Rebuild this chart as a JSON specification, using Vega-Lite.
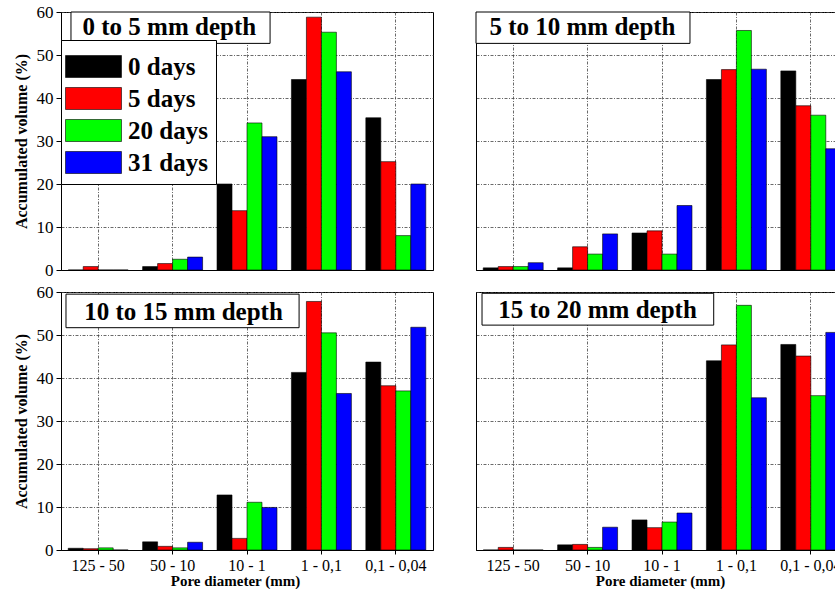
{
  "$schema": "https://vega.github.io/schema/vega-lite/v6.json",
  "background": "white",
  "padding": {"left": 12, "top": 2, "right": 0, "bottom": 0},
  "datasets": {
    "pores": [
      {"depth": "0 to 5", "pore": "125 - 50", "days": "0 days", "volume": 0},
      {"depth": "0 to 5", "pore": "125 - 50", "days": "5 days", "volume": 0.8},
      {"depth": "0 to 5", "pore": "125 - 50", "days": "20 days", "volume": 0},
      {"depth": "0 to 5", "pore": "125 - 50", "days": "31 days", "volume": 0},
      {"depth": "0 to 5", "pore": "50 - 10", "days": "0 days", "volume": 0.8},
      {"depth": "0 to 5", "pore": "50 - 10", "days": "5 days", "volume": 1.5},
      {"depth": "0 to 5", "pore": "50 - 10", "days": "20 days", "volume": 2.5},
      {"depth": "0 to 5", "pore": "50 - 10", "days": "31 days", "volume": 3.0},
      {"depth": "0 to 5", "pore": "10 - 1", "days": "0 days", "volume": 20.0},
      {"depth": "0 to 5", "pore": "10 - 1", "days": "5 days", "volume": 13.8},
      {"depth": "0 to 5", "pore": "10 - 1", "days": "20 days", "volume": 34.2},
      {"depth": "0 to 5", "pore": "10 - 1", "days": "31 days", "volume": 31.0},
      {"depth": "0 to 5", "pore": "1 - 0,1", "days": "0 days", "volume": 44.3},
      {"depth": "0 to 5", "pore": "1 - 0,1", "days": "5 days", "volume": 58.8},
      {"depth": "0 to 5", "pore": "1 - 0,1", "days": "20 days", "volume": 55.3},
      {"depth": "0 to 5", "pore": "1 - 0,1", "days": "31 days", "volume": 46.1},
      {"depth": "0 to 5", "pore": "0,1 - 0,04", "days": "0 days", "volume": 35.4},
      {"depth": "0 to 5", "pore": "0,1 - 0,04", "days": "5 days", "volume": 25.2},
      {"depth": "0 to 5", "pore": "0,1 - 0,04", "days": "20 days", "volume": 8.0},
      {"depth": "0 to 5", "pore": "0,1 - 0,04", "days": "31 days", "volume": 20.0},

      {"depth": "5 to 10", "pore": "125 - 50", "days": "0 days", "volume": 0.5},
      {"depth": "5 to 10", "pore": "125 - 50", "days": "5 days", "volume": 0.8},
      {"depth": "5 to 10", "pore": "125 - 50", "days": "20 days", "volume": 0.8},
      {"depth": "5 to 10", "pore": "125 - 50", "days": "31 days", "volume": 1.7},
      {"depth": "5 to 10", "pore": "50 - 10", "days": "0 days", "volume": 0.5},
      {"depth": "5 to 10", "pore": "50 - 10", "days": "5 days", "volume": 5.4},
      {"depth": "5 to 10", "pore": "50 - 10", "days": "20 days", "volume": 3.7},
      {"depth": "5 to 10", "pore": "50 - 10", "days": "31 days", "volume": 8.4},
      {"depth": "5 to 10", "pore": "10 - 1", "days": "0 days", "volume": 8.6},
      {"depth": "5 to 10", "pore": "10 - 1", "days": "5 days", "volume": 9.1},
      {"depth": "5 to 10", "pore": "10 - 1", "days": "20 days", "volume": 3.7},
      {"depth": "5 to 10", "pore": "10 - 1", "days": "31 days", "volume": 15.0},
      {"depth": "5 to 10", "pore": "1 - 0,1", "days": "0 days", "volume": 44.3},
      {"depth": "5 to 10", "pore": "1 - 0,1", "days": "5 days", "volume": 46.6},
      {"depth": "5 to 10", "pore": "1 - 0,1", "days": "20 days", "volume": 55.7},
      {"depth": "5 to 10", "pore": "1 - 0,1", "days": "31 days", "volume": 46.7},
      {"depth": "5 to 10", "pore": "0,1 - 0,04", "days": "0 days", "volume": 46.3},
      {"depth": "5 to 10", "pore": "0,1 - 0,04", "days": "5 days", "volume": 38.2},
      {"depth": "5 to 10", "pore": "0,1 - 0,04", "days": "20 days", "volume": 36.0},
      {"depth": "5 to 10", "pore": "0,1 - 0,04", "days": "31 days", "volume": 28.2},

      {"depth": "10 to 15", "pore": "125 - 50", "days": "0 days", "volume": 0.4},
      {"depth": "10 to 15", "pore": "125 - 50", "days": "5 days", "volume": 0.3},
      {"depth": "10 to 15", "pore": "125 - 50", "days": "20 days", "volume": 0.5},
      {"depth": "10 to 15", "pore": "125 - 50", "days": "31 days", "volume": 0},
      {"depth": "10 to 15", "pore": "50 - 10", "days": "0 days", "volume": 1.9},
      {"depth": "10 to 15", "pore": "50 - 10", "days": "5 days", "volume": 0.85},
      {"depth": "10 to 15", "pore": "50 - 10", "days": "20 days", "volume": 0.5},
      {"depth": "10 to 15", "pore": "50 - 10", "days": "31 days", "volume": 1.8},
      {"depth": "10 to 15", "pore": "10 - 1", "days": "0 days", "volume": 12.8},
      {"depth": "10 to 15", "pore": "10 - 1", "days": "5 days", "volume": 2.7},
      {"depth": "10 to 15", "pore": "10 - 1", "days": "20 days", "volume": 11.1},
      {"depth": "10 to 15", "pore": "10 - 1", "days": "31 days", "volume": 9.9},
      {"depth": "10 to 15", "pore": "1 - 0,1", "days": "0 days", "volume": 41.3},
      {"depth": "10 to 15", "pore": "1 - 0,1", "days": "5 days", "volume": 57.8},
      {"depth": "10 to 15", "pore": "1 - 0,1", "days": "20 days", "volume": 50.5},
      {"depth": "10 to 15", "pore": "1 - 0,1", "days": "31 days", "volume": 36.4},
      {"depth": "10 to 15", "pore": "0,1 - 0,04", "days": "0 days", "volume": 43.7},
      {"depth": "10 to 15", "pore": "0,1 - 0,04", "days": "5 days", "volume": 38.2},
      {"depth": "10 to 15", "pore": "0,1 - 0,04", "days": "20 days", "volume": 37.0},
      {"depth": "10 to 15", "pore": "0,1 - 0,04", "days": "31 days", "volume": 51.8},

      {"depth": "15 to 20", "pore": "125 - 50", "days": "0 days", "volume": 0},
      {"depth": "15 to 20", "pore": "125 - 50", "days": "5 days", "volume": 0.6},
      {"depth": "15 to 20", "pore": "125 - 50", "days": "20 days", "volume": 0},
      {"depth": "15 to 20", "pore": "125 - 50", "days": "31 days", "volume": 0},
      {"depth": "15 to 20", "pore": "50 - 10", "days": "0 days", "volume": 1.2},
      {"depth": "15 to 20", "pore": "50 - 10", "days": "5 days", "volume": 1.3},
      {"depth": "15 to 20", "pore": "50 - 10", "days": "20 days", "volume": 0.6},
      {"depth": "15 to 20", "pore": "50 - 10", "days": "31 days", "volume": 5.3},
      {"depth": "15 to 20", "pore": "10 - 1", "days": "0 days", "volume": 7.0},
      {"depth": "15 to 20", "pore": "10 - 1", "days": "5 days", "volume": 5.2},
      {"depth": "15 to 20", "pore": "10 - 1", "days": "20 days", "volume": 6.5},
      {"depth": "15 to 20", "pore": "10 - 1", "days": "31 days", "volume": 8.6},
      {"depth": "15 to 20", "pore": "1 - 0,1", "days": "0 days", "volume": 44.0},
      {"depth": "15 to 20", "pore": "1 - 0,1", "days": "5 days", "volume": 47.7},
      {"depth": "15 to 20", "pore": "1 - 0,1", "days": "20 days", "volume": 56.9},
      {"depth": "15 to 20", "pore": "1 - 0,1", "days": "31 days", "volume": 35.4},
      {"depth": "15 to 20", "pore": "0,1 - 0,04", "days": "0 days", "volume": 47.8},
      {"depth": "15 to 20", "pore": "0,1 - 0,04", "days": "5 days", "volume": 45.1},
      {"depth": "15 to 20", "pore": "0,1 - 0,04", "days": "20 days", "volume": 35.9},
      {"depth": "15 to 20", "pore": "0,1 - 0,04", "days": "31 days", "volume": 50.6}
    ]
  },
  "config": {
    "font": "Liberation Serif",
    "view": {"stroke": "black", "strokeWidth": 1},
    "axis": {
      "domainColor": "black", "tickColor": "black", "labelColor": "black", "titleColor": "black",
      "labelFont": "Liberation Serif", "titleFont": "Liberation Serif", "titleFontWeight": "bold",
      "gridColor": "#444444", "gridDash": [3, 1.5, 1, 1.5], "gridWidth": 0.8, "gridOpacity": 1
    },
    "legend": {"labelFont": "Liberation Serif", "titleFont": "Liberation Serif"},
    "bar": {"stroke": "black", "strokeWidth": 0.7, "strokeOpacity": 0.85},
    "text": {"font": "Liberation Serif", "fontWeight": "bold", "fontSize": 25, "color": "black"}
  },
  "columns": 2,
  "spacing": {"row": 22, "column": 43},
  "bounds": "flush",
  "resolve": {"legend": {"color": "independent"}},
  "concat": [
    {
      "width": 372, "height": 258,
      "resolve": {"scale": {"x": "independent"}},
      "layer": [
        {
          "data": {"name": "pores"},
          "transform": [{"filter": "datum.depth == '0 to 5'"}],
          "mark": "bar",
          "encoding": {
            "x": {"field": "pore", "type": "nominal", "sort": ["125 - 50", "50 - 10", "10 - 1", "1 - 0,1", "0,1 - 0,04"],
                  "scale": {"paddingInner": 0.194, "paddingOuter": 0.097},
                  "axis": {"labels": false, "ticks": false, "title": null, "grid": true, "bandPosition": 0.5, "domain": true}},
            "xOffset": {"field": "days", "type": "nominal", "sort": ["0 days", "5 days", "20 days", "31 days"], "scale": {"paddingInner": 0, "paddingOuter": 0}},
            "y": {"field": "volume", "type": "quantitative", "scale": {"domain": [0, 60], "nice": false},
                  "axis": {"values": [0, 10, 20, 30, 40, 50, 60], "grid": true, "tickSize": 5, "labelFontSize": 17, "labelPadding": 3,
                           "title": "Accumulated volume (%)", "titleFontSize": 16, "titlePadding": 7}},
            "color": {"field": "days", "type": "nominal", "sort": ["0 days", "5 days", "20 days", "31 days"],
                      "scale": {"domain": ["0 days", "5 days", "20 days", "31 days"], "range": ["#000000", "#ff0000", "#00ff00", "#0000ff"]},
                      "legend": {"orient": "none", "legendX": 0, "legendY": 28, "direction": "vertical",
                                 "title": " ", "titleFontSize": 4, "titlePadding": 2, "padding": 8,
                                 "fillColor": "white", "strokeColor": "black",
                                 "symbolType": "M-1.4545,-1H3.636V1H-1.4545Z", "symbolSize": 484, "symbolStrokeColor": "black", "symbolStrokeWidth": 1, "symbolOpacity": 1,
                                 "labelFont": "Liberation Serif", "labelFontWeight": "bold", "labelFontSize": 25, "labelColor": "black",
                                 "labelOffset": 34, "rowPadding": 6, "labelLimit": 200}}
          }
        },
        {
          "data": {"values": [{}]},
          "layer": [
            {
              "mark": {"type": "rect", "fill": "white", "stroke": "black", "strokeWidth": 1},
              "encoding": {
                "x": {"datum": 0.134, "type": "quantitative", "scale": {"domain": [0, 5], "nice": false}, "axis": null},
                "x2": {"datum": 2.81},
                "y": {"datum": 60, "type": "quantitative"},
                "y2": {"datum": 52.7}
              }
            },
            {
              "mark": {"type": "text", "baseline": "middle", "align": "center"},
              "encoding": {
                "x": {"datum": 1.456, "type": "quantitative", "scale": {"domain": [0, 5], "nice": false}, "axis": null},
                "y": {"datum": 56.4, "type": "quantitative"},
                "text": {"value": "0 to 5 mm depth"}
              }
            }
          ]
        }
      ]
    },
    {
      "width": 372, "height": 258,
      "resolve": {"scale": {"x": "independent"}},
      "layer": [
        {
          "data": {"name": "pores"},
          "transform": [{"filter": "datum.depth == '5 to 10'"}],
          "mark": "bar",
          "encoding": {
            "x": {"field": "pore", "type": "nominal", "sort": ["125 - 50", "50 - 10", "10 - 1", "1 - 0,1", "0,1 - 0,04"],
                  "scale": {"paddingInner": 0.194, "paddingOuter": 0.097},
                  "axis": {"labels": false, "ticks": false, "title": null, "grid": true, "bandPosition": 0.5, "domain": true}},
            "xOffset": {"field": "days", "type": "nominal", "sort": ["0 days", "5 days", "20 days", "31 days"], "scale": {"paddingInner": 0, "paddingOuter": 0}},
            "y": {"field": "volume", "type": "quantitative", "scale": {"domain": [0, 60], "nice": false},
                  "axis": {"values": [0, 10, 20, 30, 40, 50, 60], "grid": true, "ticks": false, "labels": false, "title": null}},
            "color": {"field": "days", "type": "nominal", "sort": ["0 days", "5 days", "20 days", "31 days"],
                      "scale": {"domain": ["0 days", "5 days", "20 days", "31 days"], "range": ["#000000", "#ff0000", "#00ff00", "#0000ff"]},
                      "legend": null}
          }
        },
        {
          "data": {"values": [{}]},
          "layer": [
            {
              "mark": {"type": "rect", "fill": "white", "stroke": "black", "strokeWidth": 1},
              "encoding": {
                "x": {"datum": 0, "type": "quantitative", "scale": {"domain": [0, 5], "nice": false}, "axis": null},
                "x2": {"datum": 2.876},
                "y": {"datum": 60, "type": "quantitative"},
                "y2": {"datum": 52.7}
              }
            },
            {
              "mark": {"type": "text", "baseline": "middle", "align": "center"},
              "encoding": {
                "x": {"datum": 1.431, "type": "quantitative", "scale": {"domain": [0, 5], "nice": false}, "axis": null},
                "y": {"datum": 56.4, "type": "quantitative"},
                "text": {"value": "5 to 10 mm depth"}
              }
            }
          ]
        }
      ]
    },
    {
      "width": 372, "height": 258,
      "resolve": {"scale": {"x": "independent"}},
      "layer": [
        {
          "data": {"name": "pores"},
          "transform": [{"filter": "datum.depth == '10 to 15'"}],
          "mark": "bar",
          "encoding": {
            "x": {"field": "pore", "type": "nominal", "sort": ["125 - 50", "50 - 10", "10 - 1", "1 - 0,1", "0,1 - 0,04"],
                  "scale": {"paddingInner": 0.194, "paddingOuter": 0.097},
                  "axis": {"labelAngle": 0, "labelFontSize": 16, "tickSize": 4, "labelPadding": 3, "grid": true, "bandPosition": 0.5,
                           "title": "Pore diameter (mm)", "titleFontSize": 15, "titlePadding": 0, "titleX": 174}},
            "xOffset": {"field": "days", "type": "nominal", "sort": ["0 days", "5 days", "20 days", "31 days"], "scale": {"paddingInner": 0, "paddingOuter": 0}},
            "y": {"field": "volume", "type": "quantitative", "scale": {"domain": [0, 60], "nice": false},
                  "axis": {"values": [0, 10, 20, 30, 40, 50, 60], "grid": true, "tickSize": 5, "labelFontSize": 17, "labelPadding": 3,
                           "title": "Accumulated volume (%)", "titleFontSize": 16, "titlePadding": 7}},
            "color": {"field": "days", "type": "nominal", "sort": ["0 days", "5 days", "20 days", "31 days"],
                      "scale": {"domain": ["0 days", "5 days", "20 days", "31 days"], "range": ["#000000", "#ff0000", "#00ff00", "#0000ff"]},
                      "legend": null}
          }
        },
        {
          "data": {"values": [{}]},
          "layer": [
            {
              "mark": {"type": "rect", "fill": "white", "stroke": "black", "strokeWidth": 1},
              "encoding": {
                "x": {"datum": 0.067, "type": "quantitative", "scale": {"domain": [0, 5], "nice": false}, "axis": null},
                "x2": {"datum": 3.2},
                "y": {"datum": 59.5, "type": "quantitative"},
                "y2": {"datum": 51.7}
              }
            },
            {
              "mark": {"type": "text", "baseline": "middle", "align": "center"},
              "encoding": {
                "x": {"datum": 1.647, "type": "quantitative", "scale": {"domain": [0, 5], "nice": false}, "axis": null},
                "y": {"datum": 55.4, "type": "quantitative"},
                "text": {"value": "10 to 15 mm depth"}
              }
            }
          ]
        }
      ]
    },
    {
      "width": 372, "height": 258,
      "resolve": {"scale": {"x": "independent"}},
      "layer": [
        {
          "data": {"name": "pores"},
          "transform": [{"filter": "datum.depth == '15 to 20'"}],
          "mark": "bar",
          "encoding": {
            "x": {"field": "pore", "type": "nominal", "sort": ["125 - 50", "50 - 10", "10 - 1", "1 - 0,1", "0,1 - 0,04"],
                  "scale": {"paddingInner": 0.194, "paddingOuter": 0.097},
                  "axis": {"labelAngle": 0, "labelFontSize": 16, "tickSize": 4, "labelPadding": 3, "grid": true, "bandPosition": 0.5,
                           "title": "Pore diameter (mm)", "titleFontSize": 15, "titlePadding": 0, "titleX": 184}},
            "xOffset": {"field": "days", "type": "nominal", "sort": ["0 days", "5 days", "20 days", "31 days"], "scale": {"paddingInner": 0, "paddingOuter": 0}},
            "y": {"field": "volume", "type": "quantitative", "scale": {"domain": [0, 60], "nice": false},
                  "axis": {"values": [0, 10, 20, 30, 40, 50, 60], "grid": true, "ticks": false, "labels": false, "title": null}},
            "color": {"field": "days", "type": "nominal", "sort": ["0 days", "5 days", "20 days", "31 days"],
                      "scale": {"domain": ["0 days", "5 days", "20 days", "31 days"], "range": ["#000000", "#ff0000", "#00ff00", "#0000ff"]},
                      "legend": null}
          }
        },
        {
          "data": {"values": [{}]},
          "layer": [
            {
              "mark": {"type": "rect", "fill": "white", "stroke": "black", "strokeWidth": 1},
              "encoding": {
                "x": {"datum": 0.081, "type": "quantitative", "scale": {"domain": [0, 5], "nice": false}, "axis": null},
                "x2": {"datum": 3.195},
                "y": {"datum": 59.7, "type": "quantitative"},
                "y2": {"datum": 52.3}
              }
            },
            {
              "mark": {"type": "text", "baseline": "middle", "align": "center"},
              "encoding": {
                "x": {"datum": 1.633, "type": "quantitative", "scale": {"domain": [0, 5], "nice": false}, "axis": null},
                "y": {"datum": 55.7, "type": "quantitative"},
                "text": {"value": "15 to 20 mm depth"}
              }
            }
          ]
        }
      ]
    }
  ]
}
